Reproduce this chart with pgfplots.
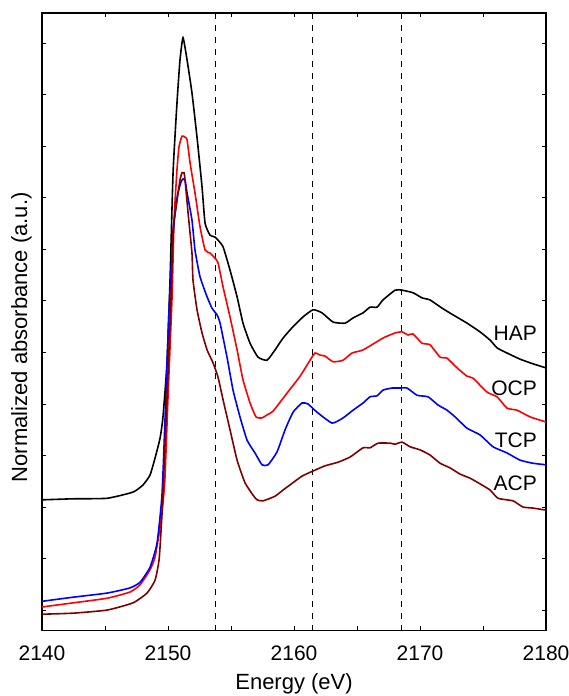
\documentclass[border=0pt]{standalone}
\usepackage{fontspec}
\setmainfont{Liberation Sans}
\usepackage{pgfplots}
\pgfplotsset{compat=1.18}
\usetikzlibrary{calc}
\definecolor{acpred}{HTML}{7F0000}

\begin{document}
\begin{tikzpicture}
\begin{axis}[
  scale only axis, width=252pt, height=308.8pt,
  xmin=2140, xmax=2180, ymin=-0.40, ymax=11.59,
  xtick={2140,2150,...,2180}, minor x tick num=1,
  ytick={0,1,...,11}, yticklabels={},
  tick pos=both, xticklabel pos=lower, tick align=inside,
  major tick length=2.2pt, minor tick length=2.2pt,
  axis line style={line width=0.7pt}, tick style={line width=0.5pt,black},
  /pgf/number format/assume math mode=true,
  /pgf/number format/set thousands separator={},
  ticklabel style={font=\fontsize{10.5}{12}\selectfont},
  xticklabel style={yshift=-4pt},
  xlabel={Energy (eV)},
  xlabel style={font=\fontsize{11}{13}\selectfont, at={(axis description cs:0.5,0)}, anchor=center, yshift=-26.5pt},
  ylabel={Normalized absorbance (a.u.)},
  ylabel style={font=\fontsize{11}{13}\selectfont, at={(axis description cs:-0.041,0.475)}, anchor=center, rotate=0},
  every axis plot/.append style={line width=0.8pt}]

% reference energies
\addplot[black, dashed, line width=0.5pt] coordinates {(2153.8,-0.40) (2153.8,11.59)};
\addplot[black, dashed, line width=0.5pt] coordinates {(2161.5,-0.40) (2161.5,11.59)};
\addplot[black, dashed, line width=0.5pt] coordinates {(2168.5,-0.40) (2168.5,11.59)};

% HAP
\addplot[black, smooth, tension=0.3] coordinates {
 (2140,2.14) (2142.46,2.16) (2145.16,2.17) (2147.22,2.29) (2148.02,2.43)
 (2148.57,2.62) (2148.97,2.95) (2149.37,3.34) (2149.60,3.75) (2149.92,4.80)
 (2150.16,6.41) (2150.40,8.49) (2150.71,9.84) (2150.95,10.68) (2151.19,11.11)
 (2151.51,10.68) (2151.90,10.04) (2152.30,9.18) (2152.70,8.21) (2152.94,7.51)
 (2153.33,7.28) (2153.73,7.24) (2153.97,7.18) (2154.37,7.05) (2154.92,6.60)
 (2155.48,6.08) (2155.95,5.57) (2156.51,5.18) (2157.14,4.91) (2157.86,4.85)
 (2158.49,5.05) (2159.13,5.28) (2159.84,5.48) (2160.71,5.69) (2161.51,5.83)
 (2162.22,5.77) (2163.10,5.59) (2164.05,5.57) (2164.68,5.67) (2165.48,5.77)
 (2166.03,5.88) (2166.59,5.88) (2167.06,6.02) (2168.02,6.21) (2168.57,6.21)
 (2169.44,6.16) (2170.16,6.06) (2170.79,6.02) (2171.75,5.86) (2172.62,5.73)
 (2173.73,5.57) (2174.76,5.40) (2175.56,5.24) (2176.11,5.09) (2176.90,4.99)
 (2177.94,4.87) (2178.97,4.78) (2180,4.70)};

% OCP
\addplot[red, smooth, tension=0.3] coordinates {
 (2140,0.06) (2142.46,0.14) (2145.16,0.23) (2146.98,0.35) (2147.78,0.49)
 (2148.57,0.78) (2148.97,1.03) (2149.37,1.61) (2149.60,2.08) (2149.76,2.58)
 (2150.00,4.14) (2150.32,6.08) (2150.48,7.57) (2150.71,8.54) (2150.87,8.99)
 (2151.11,9.20) (2151.35,9.18) (2151.51,9.13) (2151.75,8.68) (2152.14,8.10)
 (2152.54,7.44) (2152.94,6.99) (2153.33,6.93) (2153.73,6.83) (2153.97,6.74)
 (2154.37,6.27) (2154.92,5.69) (2155.48,5.05) (2155.95,4.47) (2156.51,4.02)
 (2156.98,3.75) (2157.46,3.73) (2157.86,3.79) (2158.33,3.86) (2159.44,4.21)
 (2160.48,4.54) (2161.27,4.85) (2161.67,4.99) (2162.06,4.95) (2162.46,4.93)
 (2163.10,4.82) (2163.89,4.85) (2164.60,4.99) (2165.48,5.05) (2167.06,5.28)
 (2168.02,5.38) (2168.57,5.40) (2169.05,5.34) (2169.44,5.36) (2170.16,5.18)
 (2170.79,5.15) (2171.59,4.91) (2172.14,4.89) (2172.94,4.70) (2173.73,4.54)
 (2174.21,4.50) (2175.32,4.23) (2176.11,4.14) (2176.90,3.92) (2177.70,3.88)
 (2178.73,3.75) (2180,3.65)};

% TCP
\addplot[blue, smooth, tension=0.3] coordinates {
 (2140,0.17) (2142.46,0.25) (2145.16,0.33) (2146.98,0.43) (2147.78,0.54)
 (2148.57,0.83) (2149.13,1.30) (2149.52,2.23) (2149.76,3.69) (2150.08,5.83)
 (2150.40,7.28) (2150.63,7.86) (2150.79,8.10) (2151.03,8.31) (2151.19,8.37)
 (2151.35,8.35) (2151.51,8.10) (2151.90,7.57) (2152.14,6.99) (2152.54,6.47)
 (2153.10,6.08) (2153.49,5.86) (2153.89,5.73) (2154.13,5.57) (2154.68,4.91)
 (2155.16,4.27) (2155.71,3.75) (2156.27,3.30) (2156.90,3.05) (2157.46,2.82)
 (2157.94,2.82) (2158.65,3.07) (2159.29,3.50) (2159.92,3.84) (2160.63,4.02)
 (2161.11,4.00) (2161.83,3.84) (2163.02,3.63) (2163.89,3.73) (2164.68,3.88)
 (2165.48,4.02) (2166.03,4.14) (2166.59,4.16) (2167.06,4.27) (2167.78,4.31)
 (2168.41,4.31) (2168.97,4.31) (2169.76,4.17) (2170.63,4.14) (2171.43,3.98)
 (2172.14,3.88) (2172.78,3.75) (2173.73,3.53) (2174.76,3.40) (2175.79,3.17)
 (2176.90,3.05) (2177.94,2.91) (2178.97,2.85) (2180,2.82)};

% ACP
\addplot[acpred, smooth, tension=0.3] coordinates {
 (2140,-0.08) (2142.46,-0.06) (2145.16,0.00) (2147.22,0.14) (2148.33,0.33)
 (2148.97,0.58) (2149.30,1.00) (2149.55,2.00) (2149.92,4.14) (2150.24,6.08)
 (2150.40,7.38) (2150.63,7.80) (2150.95,8.35) (2151.11,8.49) (2151.27,8.49)
 (2151.35,8.35) (2151.59,7.71) (2151.90,6.93) (2151.98,6.41) (2152.30,5.83)
 (2152.70,5.38) (2153.10,5.05) (2153.57,4.80) (2153.97,4.52) (2154.37,4.08)
 (2154.92,3.50) (2155.48,2.91) (2156.11,2.47) (2156.75,2.23) (2157.06,2.14)
 (2157.54,2.12) (2158.49,2.21) (2159.13,2.33) (2159.68,2.43) (2160.63,2.60)
 (2161.51,2.70) (2162.46,2.80) (2163.49,2.87) (2164.44,2.97) (2165.48,3.15)
 (2166.03,3.15) (2166.67,3.24) (2167.62,3.24) (2168.02,3.22) (2168.57,3.26)
 (2169.21,3.17) (2170.00,3.11) (2170.79,3.01) (2171.59,2.85) (2172.38,2.76)
 (2173.17,2.64) (2173.97,2.56) (2174.76,2.45) (2175.56,2.33) (2176.19,2.17)
 (2177.38,2.12) (2178.17,2.00) (2178.97,1.98) (2180,1.94)};

\node[anchor=east, inner sep=0pt, font=\fontsize{10.5}{12}\selectfont] at (axis cs:2179.3,5.38) {HAP};
\node[anchor=east, inner sep=0pt, font=\fontsize{10.5}{12}\selectfont] at (axis cs:2179.3,4.31) {OCP};
\node[anchor=east, inner sep=0pt, font=\fontsize{10.5}{12}\selectfont] at (axis cs:2179.3,3.30) {TCP};
\node[anchor=east, inner sep=0pt, font=\fontsize{10.5}{12}\selectfont] at (axis cs:2179.3,2.47) {ACP};
\end{axis}
\pgfresetboundingbox
\path (current axis.south west) ++(-21pt,-32.65pt) rectangle ($(current axis.north east)+(11pt,6.5pt)$);
\end{tikzpicture}
\end{document}
